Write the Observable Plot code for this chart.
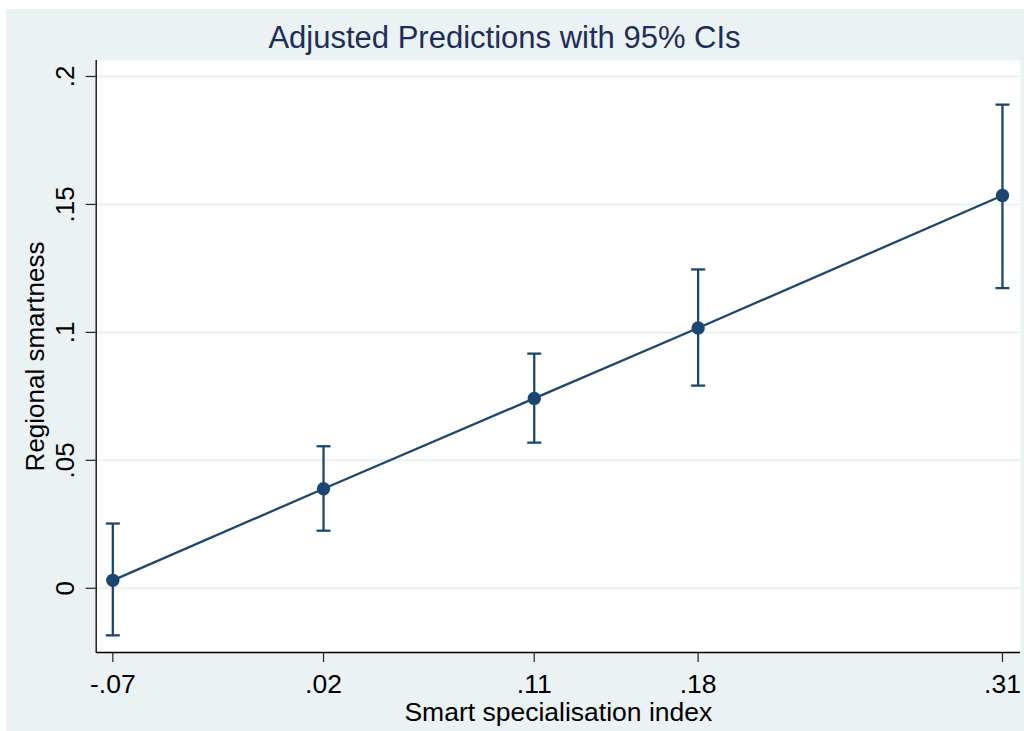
<!DOCTYPE html>
<html><head><meta charset="utf-8">
<script src="https://cdn.jsdelivr.net/npm/d3@7"></script>
<script src="https://cdn.jsdelivr.net/npm/@observablehq/plot@0.6"></script>
<style>
html,body{margin:0;padding:0;background:#fff;}
#wrap{position:absolute;left:6px;top:9px;width:1018px;height:722px;background:#eaf2f3;overflow:hidden;}
#title{position:absolute;left:0;top:13px;width:997px;text-align:center;font-family:"Liberation Sans",Arial,sans-serif;font-size:31px;line-height:31px;color:#1e2d59;margin:0;font-weight:normal;}
#chart{position:absolute;left:0;top:0;}
</style></head><body>
<div id="wrap"><div id="chart"></div><h1 id="title">Adjusted Predictions with 95% CIs</h1></div>
<script>
const xValues = [-0.07, 0.02, 0.11, 0.18, 0.31];
const predicted = [0.0031, 0.0389, 0.0742, 0.1017, 0.1535];
const ciLower = [-0.0184, 0.0225, 0.0569, 0.0792, 0.1173];
const ciUpper = [0.0253, 0.0555, 0.0917, 0.1246, 0.1890];
const xTickLabels = ["-.07", ".02", ".11", ".18", ".31"];
const yTickValues = [0, 0.05, 0.1, 0.15, 0.2];
const yTickLabels = ["0", ".05", ".1", ".15", ".2"];
const xDomain = [-0.0771, 0.3177];
const yDomain = [-0.0251, 0.20625];

const data = xValues.map((x, i) => ({x, y: predicted[i], lo: ciLower[i], hi: ciUpper[i]}));
const navy = "#1a476f";
const capSymbol = {
  draw(ctx, size) {
    const r = Math.sqrt(size / Math.PI);
    ctx.moveTo(-r, 0);
    ctx.lineTo(r, 0);
  }
};

const chart = Plot.plot({
  width: 1018,
  height: 722,
  marginLeft: 89.7,
  marginRight: 4,
  marginTop: 51,
  marginBottom: 79,
  style: {background: "transparent", fontFamily: "'Liberation Sans', Arial, sans-serif", fontSize: "26px", color: "black"},
  x: {domain: xDomain},
  y: {domain: yDomain},
  marks: [
    Plot.frame({fill: "white", stroke: "none"}),
    Plot.gridY(yTickValues, {stroke: "#eaf2f3", strokeOpacity: 1, strokeWidth: 2}),
    Plot.ruleX([xDomain[0]], {stroke: "black", strokeWidth: 1.3}),
    Plot.ruleY([yDomain[0]], {stroke: "black", strokeWidth: 1.3}),
    Plot.axisY(yTickValues, {
      tickSize: 10, tickPadding: 12, tickRotate: -90,
      tickFormat: d => yTickLabels[yTickValues.indexOf(d)],
      stroke: "#222", strokeWidth: 1.2,
      label: "Regional smartness", labelAnchor: "center", labelOffset: 71, labelArrow: "none"
    }),
    Plot.axisX(xValues, {
      tickSize: 10, tickPadding: 12,
      tickFormat: d => xTickLabels[xValues.indexOf(d)],
      stroke: "#222", strokeWidth: 1.2,
      label: "Smart specialisation index", labelAnchor: "center", labelOffset: 68, labelArrow: "none",
      fontSize: 26.5
    }),
    Plot.line(data, {x: "x", y: "y", stroke: navy, strokeWidth: 2.3}),
    Plot.ruleX(data, {x: "x", y1: "lo", y2: "hi", stroke: navy, strokeWidth: 2.3}),
    Plot.dot(data, {x: "x", y: "lo", symbol: capSymbol, r: 7, stroke: navy, strokeWidth: 2.3, fill: "none"}),
    Plot.dot(data, {x: "x", y: "hi", symbol: capSymbol, r: 7, stroke: navy, strokeWidth: 2.3, fill: "none"}),
    Plot.dot(data, {x: "x", y: "y", r: 6.7, fill: navy, stroke: "none"})
  ]
});
document.getElementById("chart").appendChild(chart);
</script>
</body></html>
